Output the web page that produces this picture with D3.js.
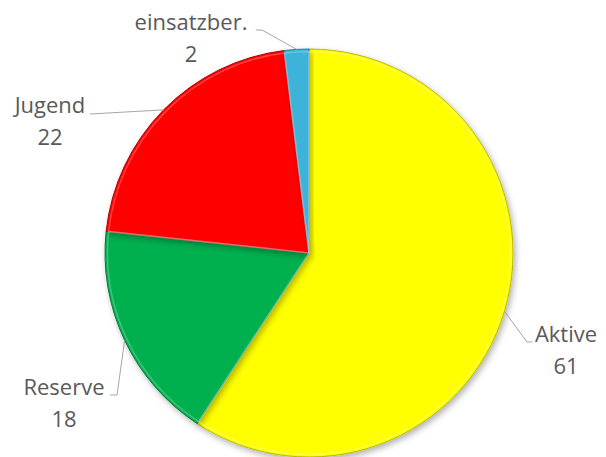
<!DOCTYPE html>
<html><head><meta charset="utf-8">
<script src="https://cdn.jsdelivr.net/npm/d3@7"></script>
<style>html,body{margin:0;padding:0;background:#fff;}svg{display:block;}</style>
</head><body>
<script>
const categories = ["Aktive", "Reserve", "Jugend", "einsatzber."];
const values = [61, 18, 22, 2];
const colors = ["#ffff00", "#00b050", "#ff0000", "#3cb3da"];
const edgeColors = ["#b8b800", "#007a38", "#b00000", "#1f7f9e"];

const W = 606, H = 457;
const cx = 309, cy = 253, R = 204;

const svg = d3.select("body").append("svg").attr("width", W).attr("height", H);
const defs = svg.append("defs");
const f = defs.append("filter").attr("id", "sh").attr("x", "-20%").attr("y", "-20%").attr("width", "140%").attr("height", "140%");
f.append("feDropShadow").attr("dx", 2).attr("dy", 3).attr("stdDeviation", 3).attr("flood-color", "#000").attr("flood-opacity", 0.3);

const data = categories.map((c, i) => ({cat: c, value: values[i], i}));
const pie = d3.pie().value(d => d.value).sort(null);
const arcs = pie(data);
const arc = d3.arc().innerRadius(0).outerRadius(R);
const arcInner = d3.arc().innerRadius(0).outerRadius(R - 2.5);

const g = svg.append("g").attr("transform", `translate(${cx},${cy})`);
g.selectAll("path.slice").data(arcs).enter().append("path")
  .attr("class", "slice")
  .attr("d", arc)
  .attr("fill", d => colors[d.data.i])
  .attr("stroke", d => edgeColors[d.data.i])
  .attr("stroke-width", 1)
  .attr("filter", "url(#sh)");
// subtle bevel highlight
g.selectAll("path.hl").data(arcs).enter().append("path")
  .attr("class", "hl")
  .attr("d", arcInner)
  .attr("fill", "none")
  .attr("stroke", "#ffffff")
  .attr("stroke-opacity", 0.25)
  .attr("stroke-width", 1.5);

// label layout (offsets for text and leader elbows), by category index
const labelLayout = [
  {tx: 566, ty: 342, elbow: [527, 342], end: [532, 342]},
  {tx: 64, ty: 395, elbow: [117, 395], end: [110, 395]},
  {tx: 50, ty: 113, elbow: [90, 114], end: [90, 114]},
  {tx: 191, ty: 30, elbow: [262, 30], end: [256, 30]}
];

const lab = svg.append("g");
arcs.forEach(a => {
  const L = labelLayout[a.data.i];
  const mid = (a.startAngle + a.endAngle) / 2;
  const sx = cx + R * Math.sin(mid), sy = cy - R * Math.cos(mid);
  lab.append("polyline")
    .attr("points", [[sx, sy], L.elbow, L.end].map(p => p.join(",")).join(" "))
    .attr("fill", "none").attr("stroke", "#a6a6a6").attr("stroke-width", 1);
  const t = lab.append("text")
    .attr("text-anchor", "middle")
    .attr("font-family", "'Open Sans', 'Noto Sans', sans-serif")
    .attr("font-size", 22)
    .attr("fill", "#595959");
  t.append("tspan").attr("x", L.tx).attr("y", L.ty).text(a.data.cat);
  t.append("tspan").attr("x", L.tx).attr("y", L.ty + 32).text(a.data.value);
});
</script>
</body></html>
